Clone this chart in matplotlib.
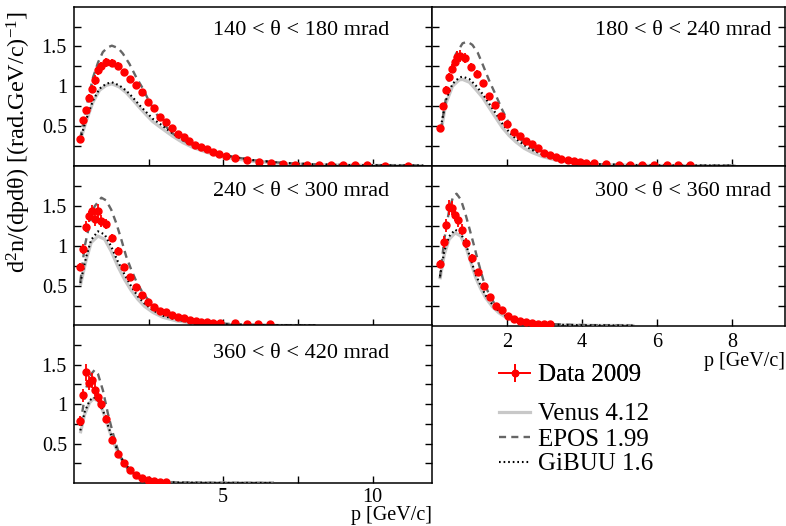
import matplotlib
matplotlib.use("Agg")
import matplotlib.pyplot as plt
from matplotlib.lines import Line2D
from matplotlib.ticker import FixedLocator, FormatStrFormatter

plt.rcParams['font.family'] = ['Liberation Serif', 'DejaVu Serif']
plt.rcParams['mathtext.fontset'] = 'custom'
plt.rcParams['mathtext.rm'] = 'Liberation Serif'
plt.rcParams['mathtext.it'] = 'Liberation Serif:italic'

# ---------------- data ----------------
labels = ["140 < θ < 180 mrad", "180 < θ < 240 mrad", "240 < θ < 300 mrad",
          "300 < θ < 360 mrad", "360 < θ < 420 mrad"]

# 140-180 mrad
p_140 = [0.21, 0.31, 0.41, 0.52, 0.62, 0.72, 0.82, 0.92, 1.06, 1.27, 1.47, 1.67, 1.87, 2.07,
         2.28, 2.48, 2.67, 2.87, 3.07, 3.27, 3.47, 3.67, 3.87, 4.07, 4.27, 4.47, 4.67, 4.87,
         5.08, 5.38, 5.79, 6.2, 6.6, 7.0, 7.4, 7.8, 8.2, 8.6, 9.0, 9.4, 9.8, 10.4, 11.2]
v_140 = [0.34, 0.57, 0.70, 0.85, 0.97, 1.08, 1.20, 1.25, 1.30, 1.29, 1.25, 1.175, 1.09, 1.02,
         0.925, 0.80, 0.72, 0.61, 0.55, 0.48, 0.405, 0.355, 0.31, 0.255, 0.23, 0.205, 0.175, 0.146,
         0.12, 0.10, 0.07, 0.046, 0.034, 0.022, 0.015, 0.01, 0.008, 0.006, 0.005, 0.004, 0.003, 0.002, 0.001]
e_140 = [0.02, 0.03, 0.04, 0.05, 0.05, 0.06, 0.06, 0.06, 0.06, 0.05, 0.05, 0.04, 0.04, 0.035,
         0.03, 0.03, 0.03, 0.025, 0.02, 0.02, 0.02, 0.015, 0.015, 0.012, 0.01, 0.01, 0.01, 0.008,
         0.008, 0.006, 0.005, 0.004, 0.003, 0.003, 0.002, 0.002, 0.001, 0.001, 0.001, 0.001, 0.001, 0.001, 0.001]
epos_p_140 = [0.21, 0.42, 0.64, 0.81, 0.97, 1.14, 1.27, 1.48, 1.64, 1.86, 2.09, 2.31, 2.53, 2.76,
              2.98, 3.31, 3.65, 3.98, 4.43, 4.99, 5.99, 7.0, 8.0, 9.0, 10.0, 11.0, 11.7]
epos_v_140 = [0.34, 0.74, 1.11, 1.30, 1.43, 1.49, 1.51, 1.48, 1.41, 1.28, 1.11, 0.97, 0.80, 0.655,
              0.53, 0.405, 0.32, 0.26, 0.20, 0.134, 0.07, 0.035, 0.018, 0.009, 0.005, 0.003, 0.002]
mod_p_140 = [0.21, 0.42, 0.64, 0.86, 1.08, 1.27, 1.52, 1.75, 1.97, 2.20, 2.42, 2.64, 2.87, 3.09,
             3.31, 3.65, 3.98, 4.43, 4.99, 5.99, 7.0, 8.0, 9.0, 10.0, 11.0, 11.7]
gibuu_v_140 = [0.33, 0.59, 0.82, 0.97, 1.03, 1.05, 1.01, 0.945, 0.86, 0.76, 0.675, 0.59, 0.53, 0.467,
               0.405, 0.32, 0.26, 0.20, 0.134, 0.07, 0.035, 0.018, 0.009, 0.005, 0.003, 0.002]
venus_v_140 = [0.31, 0.57, 0.80, 0.95, 1.01, 1.03, 0.99, 0.92, 0.83, 0.73, 0.64, 0.555, 0.49, 0.43,
               0.37, 0.29, 0.23, 0.17, 0.11, 0.055, 0.027, 0.013, 0.007, 0.004, 0.002, 0.001]

# 180-240 mrad
p_180 = [0.21, 0.285, 0.365, 0.445, 0.525, 0.605, 0.667, 0.747, 0.88, 1.045, 1.195, 1.355, 1.515,
         1.675, 1.835, 1.995, 2.18, 2.34, 2.5, 2.66, 2.81, 2.97, 3.14, 3.3, 3.45, 3.62, 3.78, 3.94,
         4.1, 4.33, 4.64, 4.98, 5.29, 5.61, 5.92, 6.26, 6.57, 6.88]
v_180 = [0.475, 0.75, 0.955, 1.11, 1.22, 1.31, 1.37, 1.38, 1.355, 1.24, 1.15, 1.04, 0.88,
         0.76, 0.63, 0.53, 0.43, 0.375, 0.31, 0.27, 0.22, 0.16, 0.134, 0.11, 0.09, 0.07, 0.06, 0.046,
         0.038, 0.03, 0.02, 0.012, 0.01, 0.008, 0.006, 0.005, 0.004, 0.003]
e_180 = [0.03, 0.04, 0.05, 0.05, 0.06, 0.06, 0.07, 0.07, 0.06, 0.05, 0.05, 0.04, 0.04,
         0.035, 0.03, 0.03, 0.025, 0.02, 0.02, 0.02, 0.015, 0.015, 0.012, 0.01, 0.01, 0.008, 0.008, 0.006,
         0.005, 0.004, 0.003, 0.002, 0.002, 0.001, 0.001, 0.001, 0.001, 0.001]
epos_p_180 = [0.23, 0.27, 0.45, 0.63, 0.81, 0.94, 1.07, 1.21, 1.34, 1.52, 1.70, 1.87, 2.05, 2.23,
              2.45, 2.67, 2.94, 3.30, 3.74, 4.45, 5.34, 6.5, 7.5, 8.1]
epos_v_180 = [0.446, 0.57, 1.11, 1.405, 1.54, 1.56, 1.52, 1.425, 1.28, 1.07, 0.884, 0.70, 0.53, 0.405,
              0.28, 0.217, 0.154, 0.09, 0.05, 0.02, 0.005, 0.002, 0.001, 0.001]
mod_p_180 = [0.23, 0.36, 0.54, 0.72, 0.81, 0.99, 1.16, 1.34, 1.52, 1.70, 1.87, 2.05, 2.23, 2.45,
             2.67, 2.94, 3.30, 3.74, 4.45, 5.5, 6.5, 7.5, 8.1]
gibuu_v_180 = [0.49, 0.82, 1.03, 1.11, 1.12, 1.09, 1.01, 0.905, 0.78, 0.655, 0.53, 0.425, 0.34, 0.26,
               0.196, 0.143, 0.09, 0.05, 0.02, 0.006, 0.003, 0.002, 0.001]
venus_v_180 = [0.42, 0.78, 1.0, 1.08, 1.085, 1.05, 0.96, 0.86, 0.73, 0.60, 0.48, 0.38, 0.30, 0.22,
               0.165, 0.115, 0.07, 0.038, 0.014, 0.004, 0.002, 0.001, 0.0005]

# 240-300 mrad
p_240 = [0.20, 0.315, 0.415, 0.516, 0.617, 0.717, 0.806, 0.906, 1.07, 1.28, 1.46, 1.68, 1.88, 2.08,
         2.28, 2.47, 2.68, 2.88, 3.07, 3.27, 3.47, 3.68, 3.88, 4.08, 4.27, 4.47, 4.67, 4.88, 5.39,
         5.79, 6.18, 6.58]
v_240 = [0.733, 0.958, 1.24, 1.366, 1.43, 1.33, 1.44, 1.31, 1.275, 1.096, 0.94, 0.733, 0.61, 0.48,
         0.39, 0.30, 0.24, 0.19, 0.167, 0.133, 0.108, 0.092, 0.07, 0.054, 0.05, 0.045, 0.04, 0.035, 0.03,
         0.025, 0.02, 0.02]
e_240 = [0.05, 0.06, 0.07, 0.07, 0.08, 0.08, 0.08, 0.07, 0.06, 0.05, 0.04, 0.04, 0.03, 0.03,
         0.025, 0.02, 0.02, 0.015, 0.015, 0.012, 0.01, 0.01, 0.008, 0.006, 0.005, 0.005, 0.004, 0.004, 0.003,
         0.003, 0.002, 0.002]
epos_p_240 = [0.215, 0.36, 0.53, 0.69, 0.92, 1.08, 1.25, 1.42, 1.59, 1.75, 1.92, 2.09, 2.31, 2.53,
              2.87, 3.31, 3.87, 4.65, 5.54, 6.5, 7.5, 8.1]
epos_v_240 = [0.55, 0.99, 1.28, 1.49, 1.60, 1.566, 1.45, 1.28, 1.075, 0.867, 0.70, 0.554, 0.408, 0.304,
              0.192, 0.117, 0.067, 0.033, 0.017, 0.008, 0.004, 0.002]
mod_p_240 = [0.215, 0.416, 0.58, 0.806, 1.03, 1.25, 1.47, 1.70, 1.92, 2.14, 2.37, 2.65, 2.98, 3.43,
             3.98, 4.76, 5.6, 6.5, 7.5, 8.1]
gibuu_v_240 = [0.533, 0.867, 1.075, 1.18, 1.14, 0.99, 0.804, 0.637, 0.492, 0.367, 0.275, 0.192, 0.125, 0.075,
               0.042, 0.021, 0.01, 0.005, 0.003, 0.002]
venus_v_240 = [0.50, 0.83, 1.04, 1.12, 1.08, 0.93, 0.742, 0.575, 0.44, 0.33, 0.24, 0.165, 0.105, 0.06,
               0.032, 0.015, 0.007, 0.004, 0.002, 0.001]

# 300-360 mrad
p_300 = [0.204, 0.301, 0.372, 0.452, 0.532, 0.604, 0.693, 0.79, 0.897, 1.066, 1.217, 1.377, 1.546,
         1.697, 1.866, 2.026, 2.186, 2.346, 2.506, 2.666, 2.826, 2.986, 3.146]
v_300 = [0.775, 1.046, 1.254, 1.479, 1.471, 1.388, 1.317, 1.2, 1.033, 0.846, 0.667, 0.492, 0.354,
         0.25, 0.192, 0.125, 0.083, 0.058, 0.042, 0.033, 0.027, 0.022, 0.02]
e_300 = [0.05, 0.07, 0.08, 0.09, 0.09, 0.08, 0.08, 0.07, 0.06, 0.05, 0.04, 0.03, 0.03,
         0.02, 0.02, 0.015, 0.01, 0.008, 0.006, 0.005, 0.004, 0.004, 0.004]
epos_p_300 = [0.204, 0.319, 0.452, 0.559, 0.648, 0.764, 0.879, 1.0, 1.12, 1.235, 1.36, 1.5, 1.65,
              1.83, 2.05, 2.32, 2.67, 3.12, 3.8, 4.5, 5.3]
epos_v_300 = [0.595, 1.075, 1.45, 1.617, 1.65, 1.575, 1.408, 1.2, 0.992, 0.783, 0.575, 0.408, 0.283,
              0.179, 0.108, 0.058, 0.033, 0.021, 0.01, 0.005, 0.002]
mod_p_300 = [0.204, 0.32, 0.45, 0.61, 0.76, 0.9, 1.03, 1.16, 1.3, 1.43, 1.61, 1.78, 2.0, 2.27,
             2.58, 3.03, 3.7, 4.5, 5.4]
gibuu_v_300 = [0.617, 0.929, 1.117, 1.2, 1.158, 1.013, 0.825, 0.637, 0.492, 0.375, 0.262, 0.179, 0.108, 0.058,
               0.029, 0.017, 0.008, 0.004, 0.002]
venus_v_300 = [0.58, 0.89, 1.08, 1.16, 1.12, 0.98, 0.79, 0.60, 0.455, 0.345, 0.235, 0.16, 0.095, 0.05,
               0.025, 0.012, 0.006, 0.003, 0.002]

# 360-420 mrad
p_360 = [0.215, 0.315, 0.416, 0.516, 0.617, 0.717, 0.817, 0.918, 1.07, 1.27, 1.475, 1.68, 1.88,
         2.08, 2.28, 2.48, 2.68, 2.88, 3.08]
v_360 = [0.786, 1.11, 1.404, 1.265, 1.3, 1.185, 1.097, 1.004, 0.807, 0.55, 0.374, 0.256, 0.164,
         0.1, 0.067, 0.038, 0.025, 0.017, 0.013]
e_360 = [0.06, 0.08, 0.11, 0.09, 0.09, 0.08, 0.07, 0.06, 0.05, 0.04, 0.03, 0.02, 0.015,
         0.01, 0.008, 0.006, 0.005, 0.004, 0.004]
epos_p_360 = [0.215, 0.416, 0.583, 0.695, 0.806, 0.973, 1.14, 1.31, 1.475, 1.64, 1.865, 2.09, 2.42,
              2.87, 3.5, 4.5, 5.5, 6.7]
epos_v_360 = [0.75, 1.21, 1.383, 1.434, 1.383, 1.173, 0.878, 0.626, 0.416, 0.27, 0.143, 0.072, 0.03,
              0.012, 0.005, 0.002, 0.001, 0.0005]
mod_p_360 = [0.215, 0.36, 0.527, 0.66, 0.806, 0.973, 1.14, 1.31, 1.53, 1.75, 1.97, 2.2, 2.53,
             2.98, 3.6, 4.5, 5.5, 6.7]
gibuu_v_360 = [0.667, 0.9, 1.046, 1.088, 1.055, 0.92, 0.731, 0.542, 0.353, 0.227, 0.13, 0.08, 0.038,
               0.013, 0.005, 0.002, 0.001, 0.0005]
venus_v_360 = [0.63, 0.87, 1.02, 1.07, 1.04, 0.91, 0.72, 0.53, 0.34, 0.21, 0.12, 0.07, 0.03,
               0.01, 0.004, 0.002, 0.001, 0.0005]

legend_labels = ["Data 2009", "Venus 4.12", "EPOS 1.99", "GiBUU 1.6"]

panels = [
    (p_140, v_140, e_140, epos_p_140, epos_v_140, mod_p_140, gibuu_v_140, venus_v_140),
    (p_180, v_180, e_180, epos_p_180, epos_v_180, mod_p_180, gibuu_v_180, venus_v_180),
    (p_240, v_240, e_240, epos_p_240, epos_v_240, mod_p_240, gibuu_v_240, venus_v_240),
    (p_300, v_300, e_300, epos_p_300, epos_v_300, mod_p_300, gibuu_v_300, venus_v_300),
    (p_360, v_360, e_360, epos_p_360, epos_v_360, mod_p_360, gibuu_v_360, venus_v_360),
]

# ---------------- layout ----------------
W, H = 786, 526
fig = plt.figure(figsize=(W / 100, H / 100), dpi=100)

def frac(x0, y0, x1, y1):
    return [x0 / W, 1 - y1 / H, (x1 - x0) / W, (y1 - y0) / H]

rects = [
    frac(73.9, 6.7, 432.3, 165.7),
    frac(432.3, 6.7, 785.0, 165.7),
    frac(73.9, 165.7, 432.3, 325.7),
    frac(432.3, 165.7, 785.0, 325.7),
    frac(73.9, 325.3, 432.3, 483.0),
]
is_left = [True, False, True, False, True]
show_x = [False, False, False, True, True]
xlabel_pad = [0, 0, 0, 0, -0.5]
xtick_pad = [5, 5, 5, 5, 3.5]
text_x = [0.634, 0.71, 0.634, 0.71, 0.634]
text_y = [0.85, 0.85, 0.836, 0.836, 0.82]

venus_c = "#c8c8c8"
epos_c = "#666666"

for i, (rect, d) in enumerate(zip(rects, panels)):
    p, v, e, ep, ev, mp, gv, vv = d
    ax = fig.add_axes(rect)
    ax.plot(mp, vv, color=venus_c, lw=2.3, solid_capstyle="butt", zorder=2)
    ax.plot(ep, ev, color=epos_c, lw=1.7, dashes=(3.0, 2.2), zorder=3)
    ax.plot(mp, gv, color="black", lw=1.5, dashes=(0.8, 1.4), zorder=3)
    ax.errorbar(p, v, yerr=e, fmt="o", color="red", ms=5, elinewidth=1.3,
                capsize=0, mec="red", zorder=4)
    ax.set_ylim(0, 2)
    if is_left[i]:
        ax.set_xlim(0, 12)
        ax.xaxis.set_major_locator(FixedLocator([5, 10]))
        ax.xaxis.set_minor_locator(FixedLocator([2.5, 7.5]))
    else:
        ax.set_xlim(0, 9.42)
        ax.xaxis.set_major_locator(FixedLocator([2, 4, 6, 8]))
        ax.xaxis.set_minor_locator(FixedLocator([]))
    ax.yaxis.set_major_locator(FixedLocator([0.5, 1.0, 1.5]))
    ax.yaxis.set_minor_locator(FixedLocator([0.25, 0.75, 1.25, 1.75]))
    ax.yaxis.set_major_formatter(FormatStrFormatter("%g"))
    ax.tick_params(which="both", direction="in", length=5, width=1.0,
                   left=True, right=True, top=False, bottom=True, labelsize=14.5, pad=5)
    ax.tick_params(axis="x", pad=xtick_pad[i])
    if not is_left[i]:
        ax.tick_params(labelleft=False)
    if show_x[i]:
        ax.xaxis.set_major_formatter(FormatStrFormatter("%g"))
        ax.set_xlabel("p [GeV/c]", fontsize=14.5, loc="right", labelpad=xlabel_pad[i])
    else:
        ax.tick_params(labelbottom=False)
    for s in ax.spines.values():
        s.set_linewidth(1.1)
    ax.text(text_x[i], text_y[i], labels[i], transform=ax.transAxes,
            ha="center", va="center", fontsize=16)

fig.text(19 / W, 1 - 142 / H, "d$^{2}$n/(dpdθ) [(rad.GeV/c)$^{-1}$]",
         rotation=90, ha="center", va="center", fontsize=17.5)

# legends
h_data = (Line2D([], [], color="red", lw=1.3, marker="o", ms=4.5),
          Line2D([], [], color="red", lw=0, marker="|", ms=13, mew=1.3))
h_venus = Line2D([], [], color=venus_c, lw=2.3)
h_epos = Line2D([], [], color=epos_c, lw=1.7, dashes=(3.0, 2.2))
h_gibuu = Line2D([], [], color="black", lw=1.5, dashes=(0.8, 1.4))

leg1 = fig.legend([h_data], [legend_labels[0]], loc="center left",
                  bbox_to_anchor=(499 / W, 1 - 375 / H), frameon=False,
                  fontsize=18, handlelength=1.25, handletextpad=0.3,
                  borderpad=0, borderaxespad=0)
fig.legend([h_venus, h_epos, h_gibuu], legend_labels[1:], loc="upper left",
           bbox_to_anchor=(499 / W, 1 - 403 / H), frameon=False,
           fontsize=18, handlelength=1.25, handletextpad=0.3,
           borderpad=0, borderaxespad=0, labelspacing=0.1)
fig.add_artist(leg1)

fig.savefig("out.png", dpi=100)
